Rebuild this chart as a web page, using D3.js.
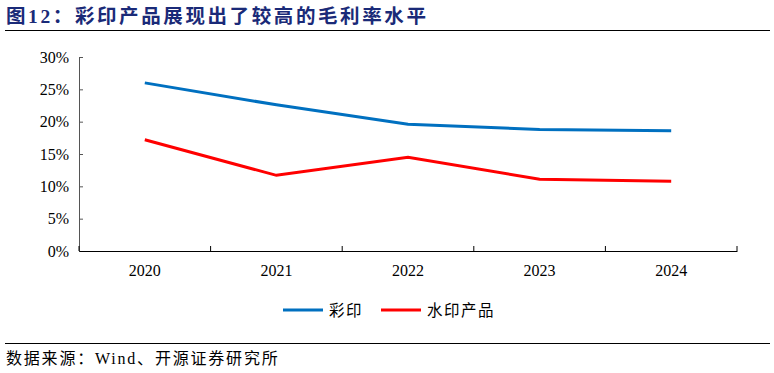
<!DOCTYPE html>
<html><head><meta charset="utf-8">
<script src="https://cdn.jsdelivr.net/npm/d3@7"></script>
<style>
body{margin:0;background:#fff;}
svg{display:block;}
</style></head>
<body>
<script>
const categories = ["2020","2021","2022","2023","2024"];
const seriesNames = ["彩印","水印产品"];
const caiYin = [26.0, 22.6, 19.6, 18.8, 18.6];
const shuiYin = [17.2, 11.7, 14.5, 11.1, 10.8];
const yTicks = [0,5,10,15,20,25,30];
const colors = ["#0070C0","#FF0000"];

const W=774,H=373;
const svg=d3.select("body").append("svg").attr("width",W).attr("height",H);
const serif="'Liberation Serif','Times New Roman',serif";
const cjk="'Noto Sans CJK SC',sans-serif";

// title
svg.append("text").attr("x",6).attr("y",23).attr("fill","#1a2a78")
  .attr("font-family",serif+","+cjk).attr("font-weight","bold").attr("font-size",19.5)
  .attr("letter-spacing",2.6)
  .text("图12：彩印产品展现出了较高的毛利率水平");
svg.append("line").attr("x1",5).attr("x2",770).attr("y1",30.5).attr("y2",30.5).attr("stroke","#000").attr("stroke-width",1.2);

const x=d3.scaleBand().domain(categories).range([79,737]);
const y=d3.scaleLinear().domain([0,30]).range([251,57]);

// y axis
const ya=svg.append("g").attr("transform","translate(79,0)")
  .call(d3.axisLeft(y).tickValues(yTicks).tickFormat(d=>d+"%").tickSizeInner(-4).tickSizeOuter(0).tickPadding(10));
ya.select(".domain").attr("stroke","#555");
ya.selectAll(".tick line").attr("stroke","#555");
ya.selectAll("text").attr("font-family",serif).attr("font-size",16).attr("fill","#000");

// x axis
const xa=svg.append("g").attr("transform","translate(0,251)")
  .call(d3.axisBottom(x).tickSize(0).tickPadding(14));
xa.select(".domain").attr("stroke","#000");
xa.selectAll("text").attr("font-family",serif).attr("font-size",16).attr("fill","#000");
const bounds=categories.map(c=>x(c)).concat([x.range()[1]]);
xa.selectAll(".bt").data(bounds).enter().append("line").attr("class","bt")
  .attr("x1",d=>d).attr("x2",d=>d).attr("y1",0).attr("y2",-5).attr("stroke","#000");

const line=d3.line().x((d,i)=>x(categories[i])+x.bandwidth()/2).y(d=>y(d));
[caiYin,shuiYin].forEach((s,i)=>{
  svg.append("path").datum(s).attr("d",line).attr("fill","none")
    .attr("stroke",colors[i]).attr("stroke-width",3);
});

// legend
const leg=[{x:283,tx:329},{x:381,tx:427}];
seriesNames.forEach((n,i)=>{
  svg.append("line").attr("x1",leg[i].x).attr("x2",leg[i].x+40).attr("y1",310).attr("y2",310)
    .attr("stroke",colors[i]).attr("stroke-width",3);
  svg.append("text").attr("x",leg[i].tx).attr("y",316).attr("font-family",cjk).attr("font-size",15.5)
    .attr("letter-spacing",1.5).attr("fill","#000").text(n);
});

// footer
svg.append("line").attr("x1",5).attr("x2",770).attr("y1",343.5).attr("y2",343.5).attr("stroke","#000").attr("stroke-width",1.2);
svg.append("text").attr("x",6).attr("y",364).attr("font-family",serif+","+cjk).attr("font-size",16)
  .attr("letter-spacing",1.8).attr("fill","#000")
  .text("数据来源：Wind、开源证券研究所");
</script>
</body></html>
